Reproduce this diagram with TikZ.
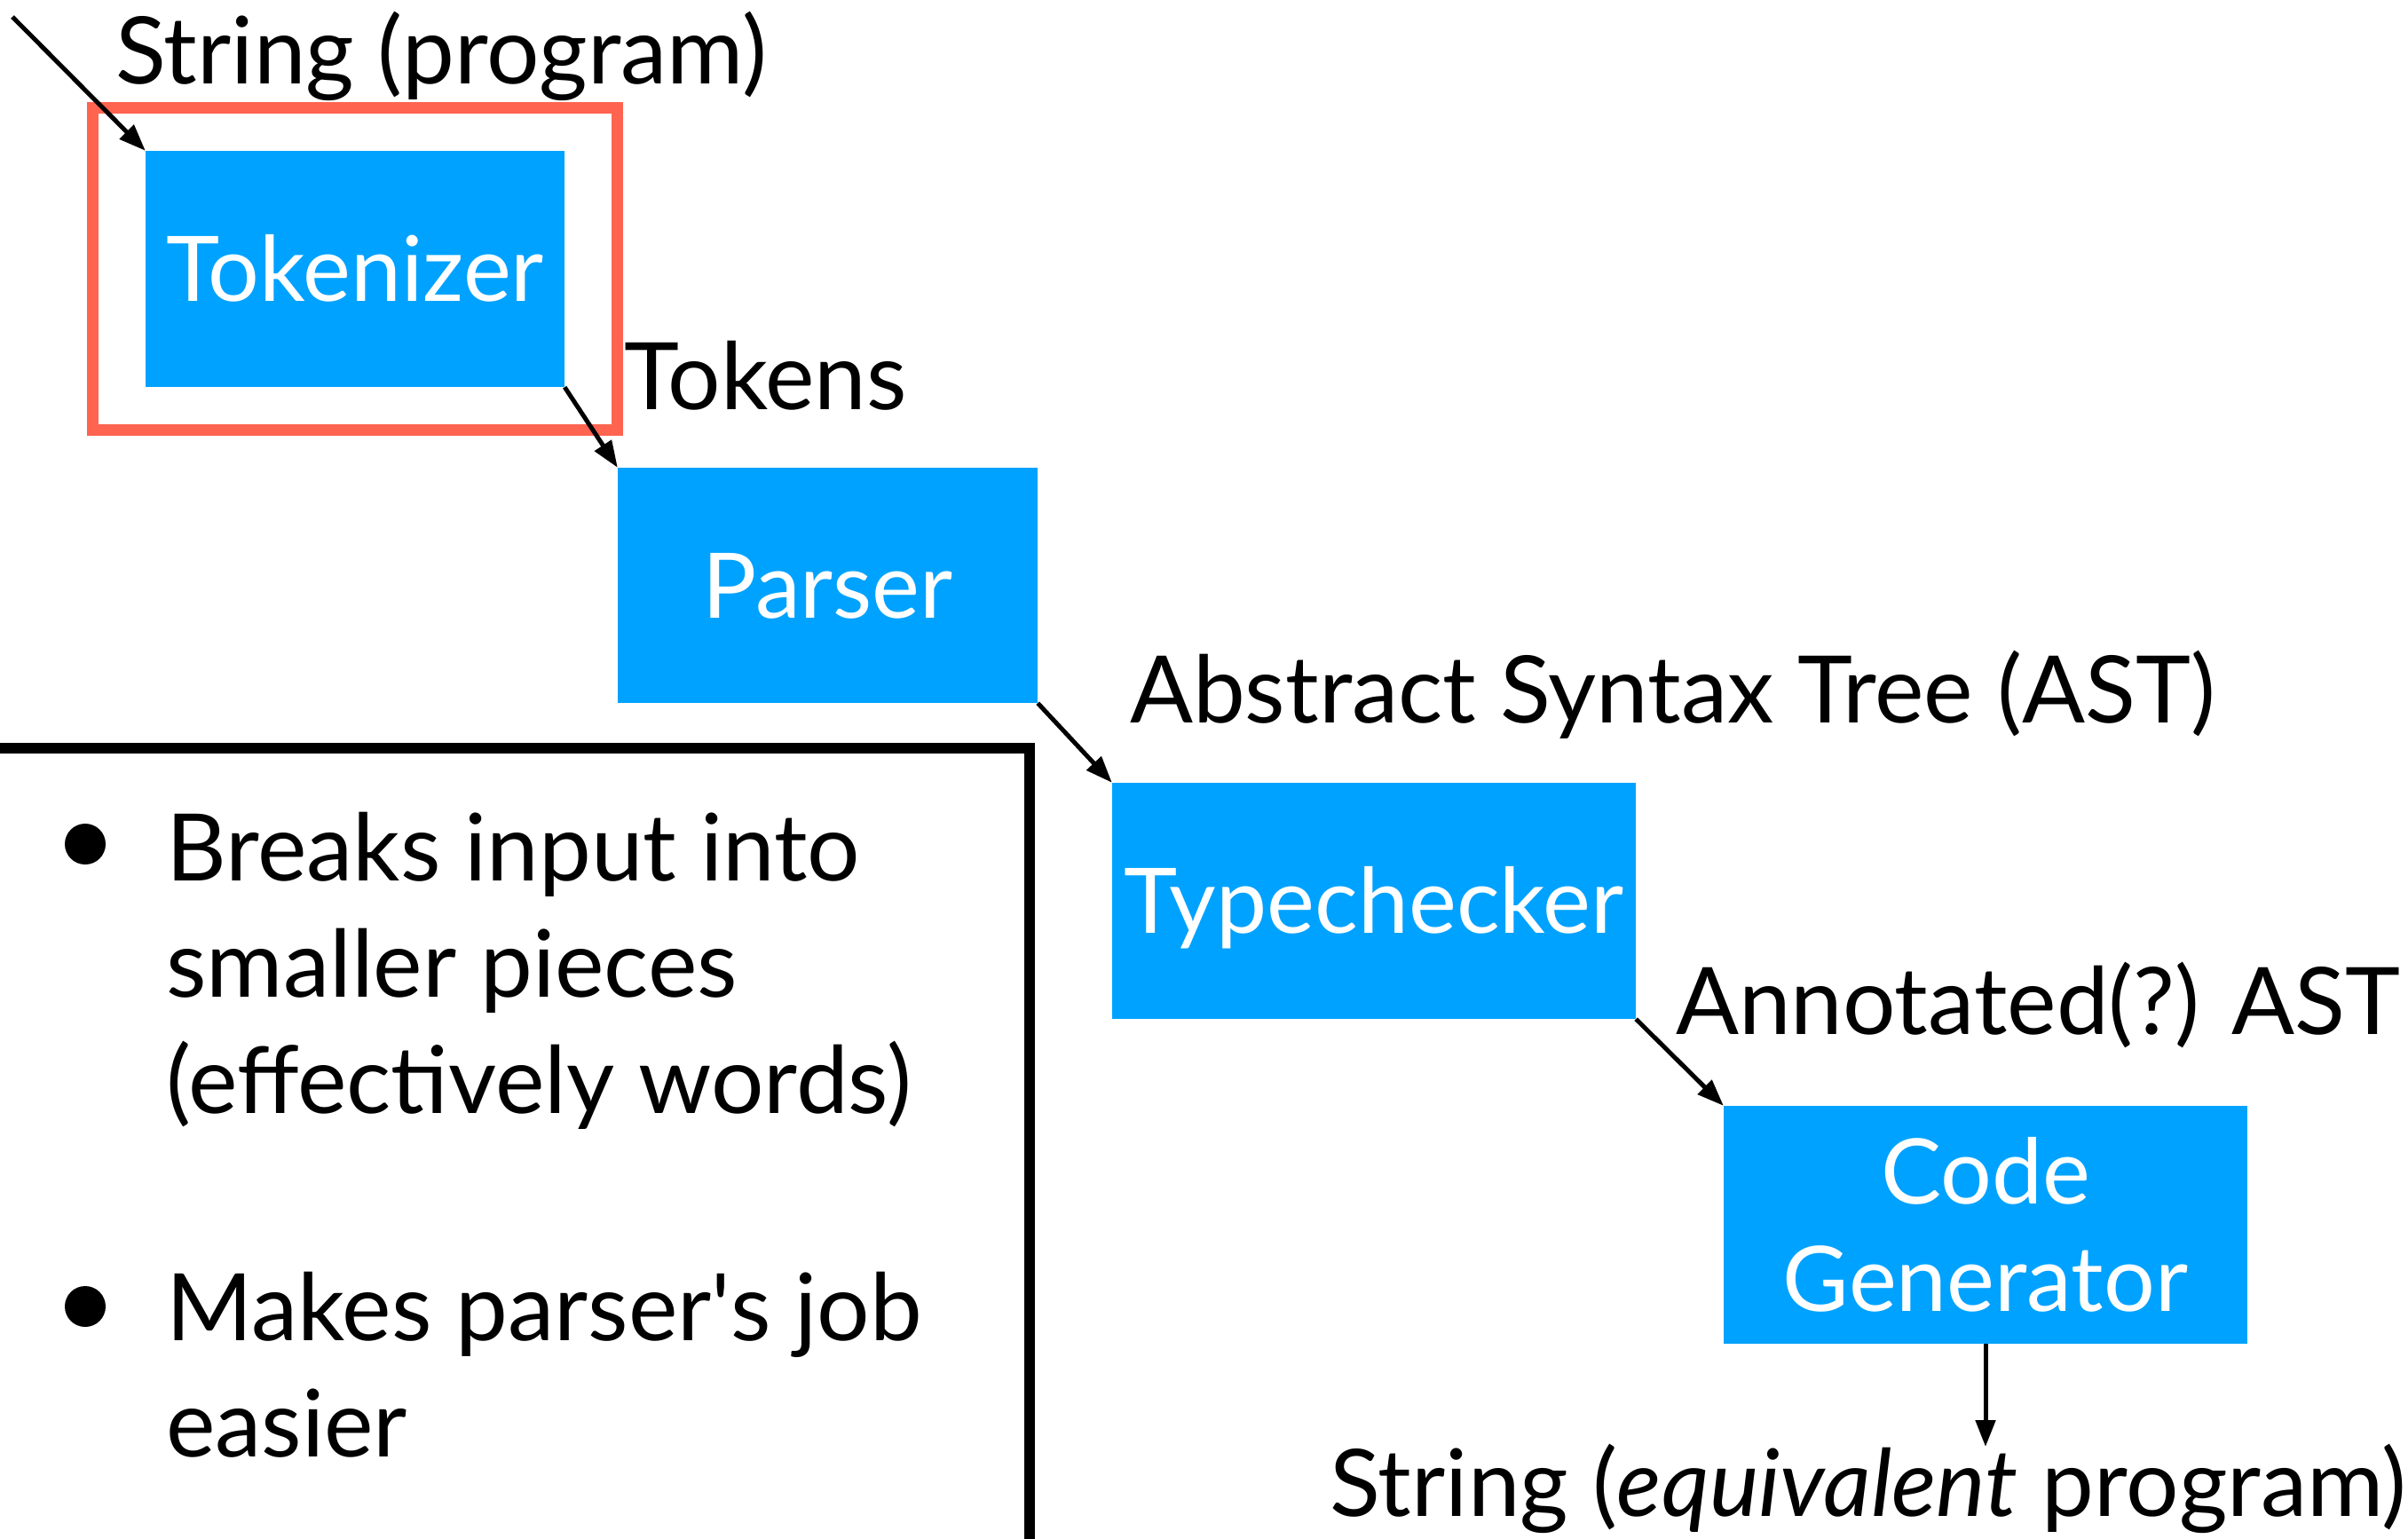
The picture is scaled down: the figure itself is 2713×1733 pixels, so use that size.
\documentclass[tikz,border=0pt]{standalone}
\usepackage{fontspec}
\setmainfont{Lato}
\usetikzlibrary{arrows.meta}
\definecolor{boxblue}{RGB}{0,162,255}
\definecolor{framered}{RGB}{255,100,80}
\begin{document}
\begin{tikzpicture}[x=1pt,y=-1pt,
  every node/.style={font=\fontsize{105pt}{121pt}\selectfont},
  stage/.style={fill=boxblue,draw=none,inner sep=0pt,text=white,
    font=\fontsize{102pt}{121pt}\selectfont,
    text height=73pt,text depth=0pt,align=center},
  lbl/.style={anchor=base west,inner sep=0pt,text=black},
  note/.style={lbl,align=left,font=\fontsize{105pt}{131pt}\selectfont},
  flow/.style={line width=5pt,-{Triangle[length=30pt,width=22pt]}}]
\useasboundingbox (0,0) rectangle (2713,1733);
% boxes
\node[stage,minimum width=472pt,minimum height=266pt] (tok) at (400,303) {Tokenizer};
\node[stage,minimum width=473pt,minimum height=265pt] (par) at (932.5,659.5) {Parser};
\node[stage,minimum width=590pt,minimum height=266pt] (typ) at (1548,1015) {Typechecker};
\node[fill=boxblue,inner sep=0pt,text=white,align=center,font=\fontsize{102pt}{121pt}\selectfont,minimum width=590pt,minimum height=268pt] (cg) at (2237,1380) {Code\\Generator};
% focus frame
\node[draw=framered,line width=13pt,inner sep=0pt,minimum width=590.5pt,minimum height=363pt] (focus) at (399.75,303) {};
% labels
\node[lbl] (s1) at (130,94) {String (program)};
\node[lbl] (tk) at (703,461) {Tokens};
\node[lbl] (ast) at (1273,814) {Abstract Syntax Tree (AST)};
\node[lbl] (aast) at (1888,1165) {Annotated(?) AST};
\node[lbl] (s2) at (1498,1708) {String (\textit{equivalent} program)};
% arrows
\coordinate (in) at (14,19);
\coordinate (out) at (2237,1630);
\draw[flow] (in) -- (tok.north west);
\draw[flow] (tok.south east) -- (par.north west);
\draw[flow] (par.south east) -- (typ.north west);
\draw[flow] (typ.south east) -- (cg.north west);
\draw[flow] (cg.south) -- (out);
% notes box
\draw[line width=12pt] (-40,843) -- (1160,843) -- (1160,1800);
\fill (96,951) circle (23pt);
\fill (96,1472) circle (23pt);
\node[note] (b1) at (187,1254) {Breaks input into\\smaller pieces\\(effectively words)};
\node[note] (b2) at (187,1641) {Makes parser\textquotesingle s job\\easier};
\end{tikzpicture}
\end{document}
